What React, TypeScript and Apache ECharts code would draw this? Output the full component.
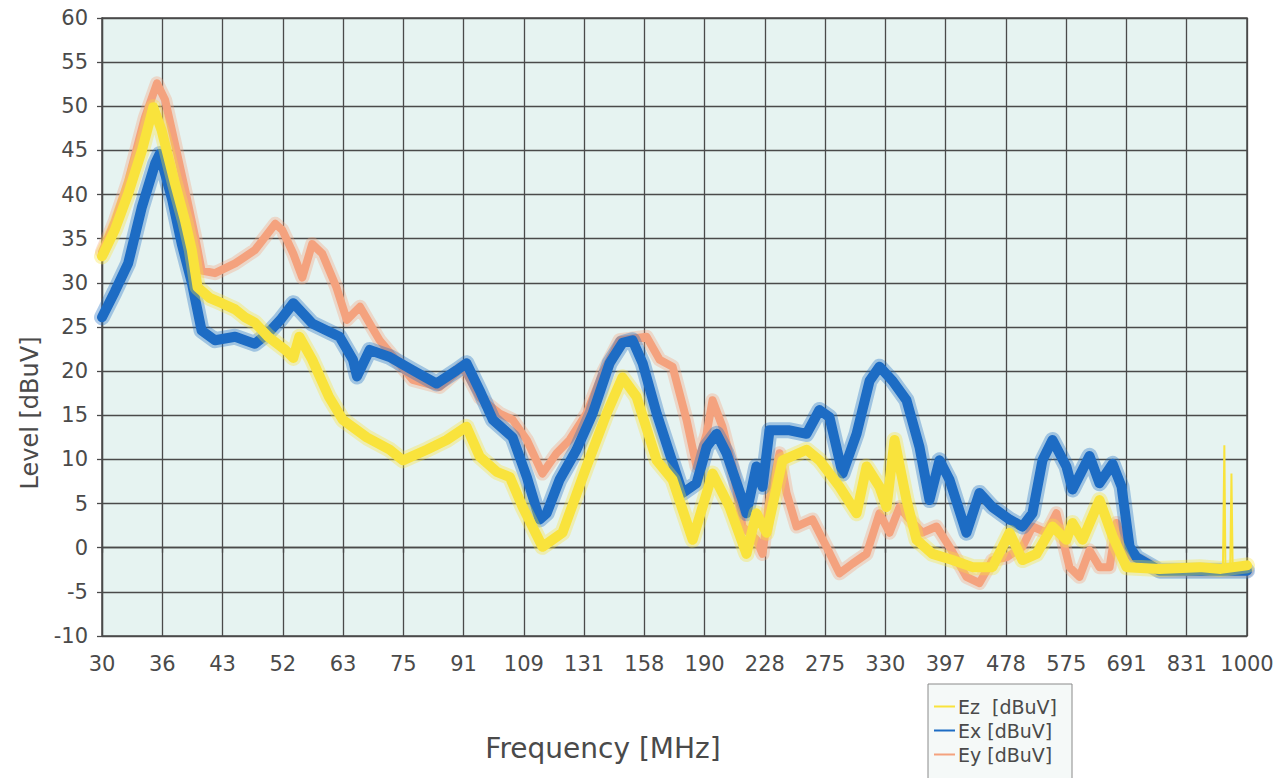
import { useEffect, useRef } from "react";
import * as echarts from "echarts";

// Frequency tick labels (MHz), equally spaced on a logarithmic scale
const FREQ_TICKS = [30, 36, 43, 52, 63, 75, 91, 109, 131, 158, 190, 228, 275, 330, 397, 478, 575, 691, 831, 1000];
const LEVEL_MIN = -10;
const LEVEL_MAX = 60;
const LEVEL_STEP = 5;

// [frequency MHz, level dBuV]
const EZ_POINTS: [number, number][] = [
  [30, 33], [31.2, 36], [32.5, 40.1], [33.9, 45], [35.1, 49.9], [36.0, 47.3], [37.5, 41.3], [38.7, 37],
  [39.5, 33.7], [40.2, 29.5], [41.7, 28.3], [43.3, 27.7], [45.1, 27.0], [46.5, 26.1], [47.9, 25.5],
  [49.9, 23.9], [52.6, 22.4], [53.9, 21.5], [54.9, 23.9], [57.1, 21.3], [60.1, 17.1], [62.7, 14.5],
  [67.5, 12.5], [72.4, 11.1], [75.4, 9.9], [81.1, 11.1], [86.2, 12.2], [91.6, 13.7], [95.4, 10.3],
  [100.5, 8.6], [104.6, 8.0], [108.8, 4.6], [115.6, 0.1], [122.9, 1.7], [132.3, 9.2], [140.7, 15.2],
  [147.7, 19.3], [154.2, 17.1], [164.0, 9.9], [172.2, 7.7], [183.1, 0.9], [194.6, 8.4], [205.0, 4.6],
  [215.9, -0.7], [222.6, 3.9], [229.6, 1.7], [241.1, 9.9], [259.5, 11.1], [270.0, 9.9], [287.1, 6.9],
  [302.5, 3.9], [311.9, 9.2], [324.5, 6.9], [331.6, 4.6], [339.8, 12.2], [352.5, 5.4], [363.5, 0.9],
  [381.7, -0.7], [405.8, -1.4], [431.4, -2.2], [458.6, -2.2], [483.2, 1.7], [502.8, -1.4], [524.8, -0.7],
  [551.2, 2.4], [575.2, 0.9], [586.0, 2.8], [604.3, 0.9], [636.5, 5.4], [662.6, 1.3], [691.6, -2.2],
  [765, -2.4], [865, -2.2], [923, -2.4], [1000, -2.0],
];

// Narrow single-bin spikes on Ez near the top of the band
const EZ_SPIKES: [number, number][] = [
  [929, -2.2], [933, 11.6], [936, -2.2], [950, -2.2], [953.5, 8.4], [957, -2.2],
];

const EX_POINTS: [number, number][] = [
  [30, 26.1], [31.2, 29.0], [32.5, 32.2], [33.9, 38.6], [35.3, 43.5], [35.8, 44.6], [37.2, 39.4],
  [38.3, 34.4], [39.5, 30.0], [40.7, 24.6], [42.4, 23.5], [45.1, 23.9], [47.9, 23.1], [49.9, 24.3],
  [51.8, 25.8], [53.9, 27.7], [57.1, 25.4], [62.1, 23.9], [64.7, 21.3], [65.5, 19.4], [68.1, 22.4],
  [72.4, 21.6], [77.7, 20.1], [83.6, 18.6], [88.9, 20.1], [91.6, 20.9], [95.4, 17.8], [99.3, 14.5],
  [105.5, 12.5], [110.2, 8.0], [114.6, 3.2], [117.1, 3.9], [121.8, 7.7], [128.3, 11.1], [134.8, 15.2],
  [142.0, 20.9], [147.7, 23.2], [152.3, 23.5], [157.1, 20.9], [164.0, 15.2], [170.6, 10.7], [177.6, 6.2],
  [185.3, 7.3], [191.1, 11.4], [197.0, 12.9], [203.1, 10.7], [213.3, 5.4], [215.9, 3.9], [222.6, 9.2],
  [226.8, 6.9], [231.7, 13.3], [246.4, 13.3], [259.5, 12.9], [270.0, 15.6], [278.4, 14.8], [289.8, 8.4],
  [302.5, 12.9], [314.8, 18.9], [324.5, 20.5], [337.7, 18.9], [352.5, 16.7], [366.8, 11.4], [378.2, 5.4],
  [390.0, 9.9], [402.1, 7.7], [423.5, 1.7], [440.7, 6.2], [458.6, 4.6], [483.2, 3.2], [502.8, 2.4],
  [518.4, 3.9], [534.5, 9.9], [551.2, 12.2], [575.2, 9.2], [586.0, 6.6], [617.3, 10.4], [636.5, 7.3],
  [662.6, 9.5], [681.1, 6.9], [698.0, 0.1], [713.1, -1.1], [765, -2.6], [865, -2.6], [1000, -2.6],
];

const EY_POINTS: [number, number][] = [
  [30, 33.5], [31.2, 37], [32.5, 41.5], [34.2, 48.7], [35.5, 52.6], [36.4, 50.7], [37.5, 45.8],
  [38.7, 40.5], [39.9, 35.2], [40.7, 31.4], [42.4, 31.1], [45.1, 32.2], [47.9, 33.7], [51.0, 36.7],
  [52.1, 36.0], [53.9, 33.3], [55.4, 30.6], [57.1, 34.4], [58.9, 33.3], [61.5, 29.5], [63.5, 25.8],
  [66.1, 27.3], [68.1, 25.4], [70.2, 23.5], [77.7, 19.0], [84.4, 18.2], [90.6, 20.5], [95.4, 17.0],
  [101.4, 15.2], [105.5, 14.5], [110.2, 12.2], [115.6, 8.4], [120.7, 10.7], [125.6, 12.2], [132.3, 15.2],
  [139.0, 19.8], [146.4, 23.5], [159.0, 23.9], [165.5, 21.3], [172.2, 20.5], [179.7, 14.5], [185.3, 9.2],
  [191.1, 12.9], [194.6, 16.7], [200.6, 13.7], [206.9, 9.2], [213.3, 2.4], [222.6, 0.9], [226.8, -0.7],
  [231.7, 5.4], [238.9, 10.7], [244.1, 6.2], [251.7, 2.4], [264.3, 3.2], [275.9, 0.1], [287.1, -2.9],
  [298.8, -1.8], [311.9, -0.7], [324.5, 3.9], [334.6, 1.7], [345.0, 4.6], [355.8, 3.2], [370.2, 1.7],
  [386.4, 2.4], [402.1, 0.1], [423.5, -3.3], [440.7, -4.0], [458.6, -1.4], [478.7, -1.1], [502.8, 0.1],
  [518.4, 2.4], [541.1, 1.7], [557.9, 3.9], [580.6, -2.2], [598.7, -3.3], [617.3, -0.3], [636.5, -2.2],
  [656.5, -2.2], [670.7, 2.8], [691.6, -0.7], [765, -2.6], [1000, -2.6],
];

const SERIES_NAMES = ["Ez  [dBuV]", "Ex [dBuV]", "Ey [dBuV]"];
const COLOR_EZ = "#f9e33c";
const COLOR_EX = "#1d6cc4";
const COLOR_EY = "#f4a27e";

const FONT = "DejaVu Sans, Verdana, sans-serif";
const TEXT_COLOR = "#4a4a4a";
const F_MIN = FREQ_TICKS[0];
const F_MAX = FREQ_TICKS[FREQ_TICKS.length - 1];
const DIVS = FREQ_TICKS.length - 1;

// position of a frequency on the logarithmic axis, in tick divisions
const logPos = (f: number) => (DIVS * Math.log(f / F_MIN)) / Math.log(F_MAX / F_MIN);
const toXY = (pts: [number, number][]) => pts.map(([f, v]) => [logPos(f), v]);

function traceSeries(name: string, pts: [number, number][], color: string, core: number, halo: number) {
  const data = toXY(pts);
  return [
    {
      type: "line",
      data,
      showSymbol: false,
      silent: true,
      lineStyle: { color, width: halo, opacity: 0.35, join: "round", cap: "round" },
    },
    {
      name,
      type: "line",
      data,
      showSymbol: false,
      itemStyle: { color },
      lineStyle: { color, width: core, join: "round", cap: "round" },
    },
  ];
}

export default function App() {
  const ref = useRef<HTMLDivElement>(null);

  useEffect(() => {
    if (!ref.current) return;
    const chart = echarts.init(ref.current, null, { renderer: "svg" });
    const gridLine = { color: "#4a4a4a", width: 1.3 };
    chart.setOption({
      animation: false,
      backgroundColor: "#ffffff",
      grid: {
        left: 102,
        right: 41,
        top: 18,
        bottom: 142,
        show: true,
        backgroundColor: "#e6f3f1",
        borderColor: "#4a4a4a",
        borderWidth: 1.5,
      },
      xAxis: {
        type: "value",
        min: 0,
        max: DIVS,
        interval: 1,
        axisLine: { show: true, lineStyle: gridLine },
        axisTick: { show: true, length: 5, lineStyle: gridLine },
        splitLine: { show: true, lineStyle: gridLine },
        axisLabel: {
          formatter: (v: number) => String(FREQ_TICKS[Math.round(v)] ?? ""),
          fontSize: 21,
          color: TEXT_COLOR,
          fontFamily: FONT,
          margin: 17,
          showMinLabel: true,
          showMaxLabel: true,
        },
      },
      yAxis: {
        type: "value",
        min: LEVEL_MIN,
        max: LEVEL_MAX,
        interval: LEVEL_STEP,
        axisLine: { show: true, lineStyle: gridLine },
        axisTick: { show: true, length: 5, lineStyle: gridLine },
        splitLine: { show: true, lineStyle: gridLine },
        axisLabel: { fontSize: 21, color: TEXT_COLOR, fontFamily: FONT, margin: 14 },
      },
      legend: {
        data: SERIES_NAMES,
        orient: "vertical",
        left: 934,
        top: 697,
        icon: "rect",
        itemWidth: 21,
        itemHeight: 2,
        itemGap: 5,
        padding: 0,
        textStyle: { fontSize: 19, color: TEXT_COLOR, fontFamily: FONT, padding: [0, 0, 0, -2] },
      },
      graphic: [
        {
          type: "rect",
          z: -1,
          shape: { x: 928, y: 684, width: 144, height: 110 },
          style: { fill: "#f5f9f8", stroke: "#8a8a8a", lineWidth: 1 },
        },
        {
          type: "text",
          x: 30,
          y: 413,
          rotation: Math.PI / 2,
          style: {
            text: "Level [dBuV]",
            fontSize: 24,
            fill: TEXT_COLOR,
            fontFamily: FONT,
            align: "center",
            verticalAlign: "middle",
          },
        },
        {
          type: "text",
          x: 603,
          y: 748,
          style: {
            text: "Frequency [MHz]",
            fontSize: 28,
            fill: TEXT_COLOR,
            fontFamily: FONT,
            align: "center",
            verticalAlign: "middle",
          },
        },
      ],
      series: [
        ...traceSeries(SERIES_NAMES[2], EY_POINTS, COLOR_EY, 8, 14),
        ...traceSeries(SERIES_NAMES[1], EX_POINTS, COLOR_EX, 10, 16),
        ...traceSeries(SERIES_NAMES[0], EZ_POINTS, COLOR_EZ, 10, 16),
        {
          type: "line",
          data: toXY(EZ_SPIKES),
          showSymbol: false,
          silent: true,
          lineStyle: { color: COLOR_EZ, width: 2 },
        },
      ],
    });
    return () => chart.dispose();
  }, []);

  return (
    <div
      ref={ref}
      style={{ position: "absolute", left: 0, top: 0, width: 1288, height: 778 }}
    />
  );
}
